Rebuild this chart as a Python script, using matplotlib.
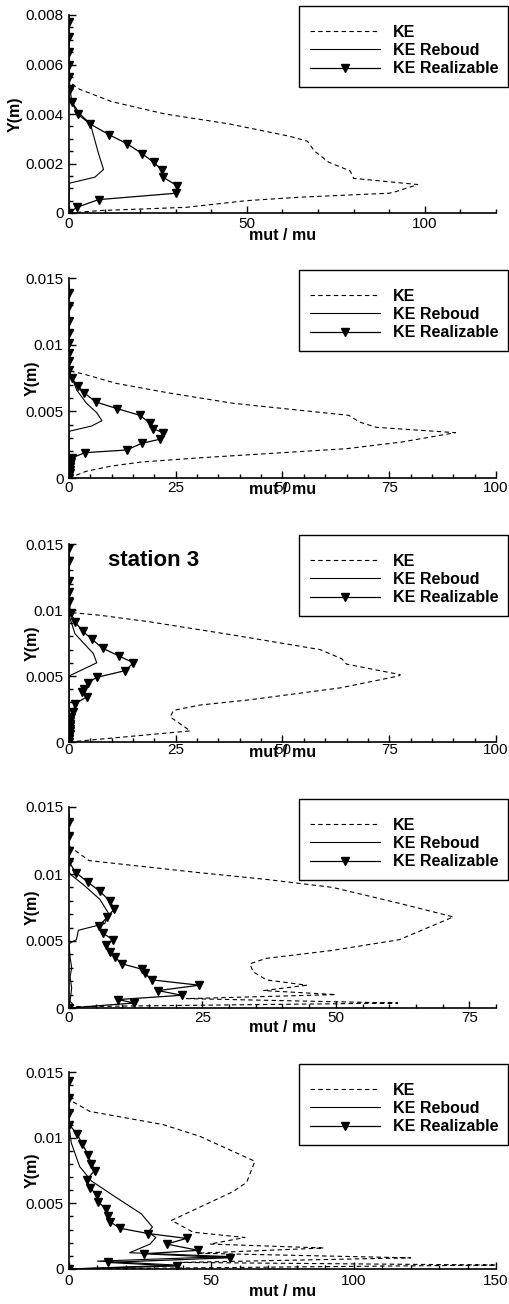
import matplotlib
matplotlib.use('Agg')
import matplotlib.pyplot as plt
from matplotlib.patches import Rectangle
from matplotlib.ticker import MultipleLocator, FuncFormatter

plt.rcParams['font.family'] = ['Liberation Sans', 'DejaVu Sans']

W, H = 510, 1304

# ---- station 1
ke_x_1 = [0, 9, 33, 50, 65, 90, 92, 98, 80, 79, 73, 69, 67, 62, 45, 27, 12, 3, 1, 0, 0]
ke_y_1 = [0, 0.0001, 0.00023, 0.0005, 0.00064, 0.0008, 0.00087, 0.00115, 0.0014, 0.0017,
          0.00205, 0.0025, 0.0029, 0.0031, 0.0036, 0.004, 0.0045, 0.005, 0.0052, 0.0054, 0.008]
reb_x_1 = [0, 0, 7.3, 9.7, 8.3, 6, 3.1, 0.75, 0, 0]
reb_y_1 = [0, 0.0012, 0.00145, 0.00176, 0.0024, 0.0036, 0.004, 0.0045, 0.0047, 0.008]
real_x_1 = [0, 2.2, 8.3, 30.2, 30.4, 26.4, 26.1, 23.8, 20.5, 16.3, 11.3, 5.9, 2.4, 0.75,
            0.3, 0, 0, 0, 0, 0]
real_y_1 = [0, 0.00023, 0.00054, 0.0008, 0.0011, 0.00145, 0.00174, 0.00205, 0.0024, 0.0028,
            0.00316, 0.0036, 0.004, 0.0045, 0.005, 0.0055, 0.006, 0.0065, 0.0071, 0.0077]

# ---- station 2
ke_x_2 = [0, 4, 10, 17, 30, 50, 65, 78, 90.5, 72, 68, 65.5, 38.5, 23, 11, 3.4, 0.6, 0, 0]
ke_y_2 = [0, 0.0005, 0.0009, 0.0012, 0.0015, 0.0019, 0.0022, 0.0027, 0.0034, 0.0038, 0.0042,
          0.0047, 0.0056, 0.0064, 0.0071, 0.0078, 0.008, 0.0082, 0.0145]
reb_x_2 = [0, 0, 5.3, 7.7, 6.5, 4.1, 1.8, 0.6, 0, 0]
reb_y_2 = [0, 0.0035, 0.0039, 0.0043, 0.0049, 0.0056, 0.0066, 0.0076, 0.008, 0.0145]
real_x_2 = [0, 0.1, 0.2, 0.2, 0.3, 0.3, 0.4, 0.6, 3.75, 13.5, 17, 21.2, 22.1, 19.6, 19, 16.6,
            11.3, 6.3, 3.5, 2, 0.6, 0, 0, 0, 0, 0, 0, 0, 0]
real_y_2 = [0, 0.0002, 0.0004, 0.0006, 0.0008, 0.001, 0.0012, 0.0015, 0.0019, 0.0021, 0.0026,
            0.0029, 0.0034, 0.0037, 0.0041, 0.0047, 0.0052, 0.0057, 0.0064, 0.0069, 0.0075,
            0.0081, 0.0088, 0.0094, 0.0101, 0.0109, 0.0118, 0.0129, 0.0139]

# ---- station 3
ke_x_3 = [0, 28.4, 23.7, 24.5, 30.7, 42.4, 63.5, 77.2, 77.6, 65, 63.9, 58.8, 38.5, 19, 7.3,
          0.6, 0, 0]
ke_y_3 = [0, 0.00084, 0.0019, 0.0024, 0.0028, 0.0032, 0.0041, 0.005, 0.0051, 0.0059, 0.0063,
          0.007, 0.0081, 0.0091, 0.0096, 0.0098, 0.0099, 0.0145]
reb_x_3 = [0, 0, 2.6, 6.5, 5.7, 3.4, 1.4, 0.4, 0, 0]
reb_y_3 = [0, 0.005, 0.0054, 0.006, 0.0067, 0.0075, 0.0082, 0.0092, 0.0096, 0.0145]
real_x_3 = [0, 0.1, 0.1, 0.2, 0.2, 0.3, 0.3, 0.3, 0.3, 0.5, 1, 1.4, 4.1, 3, 3.5, 4.5, 6.5, 13.1,
            15.1, 11.8, 7.9, 5.3, 3.2, 1.4, 0.4, 0, 0, 0, 0, 0]
real_y_3 = [0, 0.0002, 0.0004, 0.0006, 0.0008, 0.001, 0.0012, 0.0014, 0.0016, 0.0019, 0.0023,
            0.0029, 0.0034, 0.0038, 0.004, 0.0045, 0.0049, 0.0054, 0.006, 0.0065, 0.0071,
            0.0078, 0.0084, 0.0091, 0.0098, 0.0106, 0.0114, 0.0122, 0.0137, 0.0147]

# ---- station 4
ke_x_4 = [0, 0.3, 61.6, 22, 50, 36.5, 44.5, 37, 34.5, 33.9, 36.9, 49.4, 61.9, 72, 62, 49.4,
          36.9, 24.4, 3.75, 0.3, 0, 0]
ke_y_4 = [0, 0.0001, 0.00037, 0.0007, 0.001, 0.0013, 0.0017, 0.0021, 0.0027, 0.0033, 0.0037,
          0.0043, 0.0051, 0.0068, 0.0078, 0.009, 0.0096, 0.0101, 0.011, 0.012, 0.0121, 0.0145]
reb_x_4 = [0, 0.9, 0.2, 0.5, 0.2, 0.5, 0.2, 0, 1.4, 1.75, 6.7, 7.35, 5.8, 3, 0.2, 0, 0]
reb_y_4 = [0, 0.0002, 0.0005, 0.0015, 0.0023, 0.003, 0.0038, 0.0048, 0.0051, 0.0058, 0.0063,
           0.0071, 0.0081, 0.0091, 0.01, 0.0102, 0.0145]
real_x_4 = [0, 12.2, 9.2, 21.1, 16.7, 24.4, 15.5, 14.2, 13.6, 9.9, 8.6, 7.7, 7.0, 8.2, 6.3, 5.6,
            7.2, 8.5, 7.6, 5.8, 3.5, 1.3, 0, 0, 0, 0]
real_y_4 = [0, 0.00037, 0.00063, 0.00095, 0.0013, 0.0017, 0.0021, 0.0026, 0.0029, 0.0033, 0.0038,
            0.0042, 0.0047, 0.0051, 0.0056, 0.0061, 0.0068, 0.0074, 0.008, 0.0087, 0.0094,
            0.0101, 0.0109, 0.0117, 0.0128, 0.0139]

# ---- station 5
ke_x_5 = [0, 150, 39, 120, 45, 89.5, 49.5, 61.8, 43.6, 36, 57.7, 62.4, 65.3, 46, 33, 7.3, 0, 0]
ke_y_5 = [0, 0.0003, 0.0005, 0.00085, 0.0012, 0.0016, 0.0019, 0.0024, 0.0028, 0.0037, 0.0059,
          0.0066, 0.0082, 0.0101, 0.011, 0.012, 0.0129, 0.0145]
reb_x_5 = [0, 38, 10, 56, 21.3, 28.5, 30.5, 27.8, 29.3, 25.4, 15.5, 7.9, 3.75, 0.8, 0, 0]
reb_y_5 = [0, 0.0003, 0.0006, 0.00095, 0.00124, 0.0019, 0.0024, 0.0028, 0.0032, 0.0042, 0.0056,
           0.0067, 0.0078, 0.0096, 0.0109, 0.0145]
real_x_5 = [0, 38, 13.7, 56.5, 26.3, 45.4, 34.3, 41.3, 27.8, 18, 14.3, 13.7, 12.9, 10.3, 9.9,
            7.3, 6.3, 9, 7.9, 6.7, 4.7, 2.8, 0, 0, 0, 0]
real_y_5 = [0, 0.00023, 0.0005, 0.00086, 0.00116, 0.00142, 0.0019, 0.00233, 0.0027, 0.0031,
            0.0036, 0.004, 0.0046, 0.0051, 0.0056, 0.0062, 0.0068, 0.0075, 0.008, 0.0087,
            0.0095, 0.0103, 0.011, 0.0119, 0.013, 0.0143]

series = [
    (ke_x_1, ke_y_1, reb_x_1, reb_y_1, real_x_1, real_y_1),
    (ke_x_2, ke_y_2, reb_x_2, reb_y_2, real_x_2, real_y_2),
    (ke_x_3, ke_y_3, reb_x_3, reb_y_3, real_x_3, real_y_3),
    (ke_x_4, ke_y_4, reb_x_4, reb_y_4, real_x_4, real_y_4),
    (ke_x_5, ke_y_5, reb_x_5, reb_y_5, real_x_5, real_y_5),
]
legend_labels = ['KE', 'KE Reboud', 'KE Realizable']

# layout, in pixels
tops = [15, 278, 544, 807, 1072]
bottoms = [213, 478, 742, 1008, 1269]
x_max = [120, 100, 100, 80, 150]
x_major = [50, 25, 25, 25, 50]
x_minor = [10, 5, 5, 5, 10]
y_max = [0.008, 0.015, 0.015, 0.015, 0.015]
y_major = [0.002, 0.005, 0.005, 0.005, 0.005]
y_minor = [0.0005, 0.001, 0.001, 0.001, 0.001]
leg_tops = [6, 270, 535, 799, 1064]
xlab_off = [22, 12, 10, 20, 23]
xtick_pad = [3.2, 1.8, 0.5, 1.8, 3.8]
ylab_x = [15.6, 32, 32, 32, 32]
LEFT, RIGHT = 69, 496

fig = plt.figure(figsize=(W / 100, H / 100), dpi=100)

for i in range(5):
    ax = fig.add_axes([LEFT / W, 1 - bottoms[i] / H, (RIGHT - LEFT) / W,
                       (bottoms[i] - tops[i]) / H])
    kx, ky, rx, ry, zx, zy = series[i]
    ax.plot(kx, ky, color='black', lw=0.8, ls=(0, (4, 3)), label=legend_labels[0])
    ax.plot(rx, ry, color='black', lw=0.8, label=legend_labels[1])
    ax.plot(zx, zy, color='black', lw=0.9, marker='v', ms=6.3, label=legend_labels[2])

    ax.set_xlim(0, x_max[i])
    ax.set_ylim(0, y_max[i])
    for s in ['top', 'right']:
        ax.spines[s].set_visible(False)
    for s in ['left', 'bottom']:
        ax.spines[s].set_linewidth(1.2)
    ax.xaxis.set_major_locator(MultipleLocator(x_major[i]))
    ax.xaxis.set_minor_locator(MultipleLocator(x_minor[i]))
    ax.yaxis.set_major_locator(MultipleLocator(y_major[i]))
    ax.yaxis.set_minor_locator(MultipleLocator(y_minor[i]))
    fmt = FuncFormatter(lambda v, p: '%g' % round(v, 6))
    ax.xaxis.set_major_formatter(fmt)
    ax.yaxis.set_major_formatter(fmt)
    ax.tick_params(which='both', direction='in', top=False, right=False, width=1,
                   labelsize=11)
    ax.tick_params(which='major', length=5)
    ax.tick_params(which='minor', length=3)
    ax.tick_params(axis='x', pad=xtick_pad[i])
    ax.tick_params(axis='y', pad=4)

    h = bottoms[i] - tops[i]
    ax.set_xlabel('mut / mu', fontsize=11.5, fontweight='bold', va='center')
    ax.xaxis.set_label_coords(0.5, -xlab_off[i] / h)
    ax.set_ylabel('Y(m)', fontsize=11.5, fontweight='bold', va='center')
    ax.yaxis.set_label_coords((ylab_x[i] - LEFT) / (RIGHT - LEFT), 0.5)

    # legend entries centred on the rows, frame drawn as its own box
    ax.legend(loc='center left', bbox_to_anchor=(310 / W, 1 - (leg_tops[i] + 44.5) / H),
              bbox_transform=fig.transFigure, borderaxespad=0, borderpad=0,
              frameon=False, numpoints=1, handlelength=4.4, handletextpad=0.8,
              labelspacing=0.2, prop={'weight': 'bold', 'size': 11.5})
    fig.patches.append(Rectangle((299 / W, 1 - (leg_tops[i] + 81) / H), 209 / W, 81 / H,
                                 transform=fig.transFigure, fill=False, lw=1.0,
                                 edgecolor='black'))

    if i == 2:
        ax.text((108 - LEFT) / (RIGHT - LEFT), 1 - (560 - tops[i]) / h, 'station 3',
                transform=ax.transAxes, fontsize=16, fontweight='bold', va='center',
                ha='left')

fig.savefig('out.png', dpi=100)
